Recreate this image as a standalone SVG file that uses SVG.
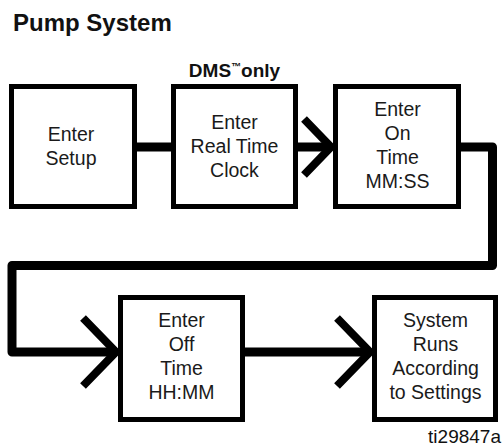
<svg xmlns="http://www.w3.org/2000/svg" width="502" height="447" viewBox="0 0 502 447">
<style>
.box{fill:#fff;stroke:#000;stroke-width:5}
.t{font-family:"Liberation Sans",Arial,sans-serif;font-size:19.5px;fill:#1a1a1a;text-anchor:middle}
.b{font-family:"Liberation Sans",Arial,sans-serif;font-weight:bold;fill:#111}
.ln{fill:none;stroke:#000;stroke-width:9}
.chev{fill:none;stroke:#000;stroke-width:8;stroke-linejoin:miter}
</style>
<rect width="502" height="447" fill="#fff"/>
<text class="b" x="13" y="31" font-size="24">Pump System</text>
<text class="b" x="234.5" y="76.5" font-size="19" text-anchor="middle">DMS<tspan font-size="10" dy="-7">™</tspan><tspan dy="7">only</tspan></text>
<g id="connectors">
<line class="ln" x1="135" y1="147" x2="173" y2="147"/>
<line class="ln" x1="296" y1="147" x2="331" y2="147"/>
<polyline class="chev" points="304,119 331,147 304,175"/>
<path class="ln" d="M460,147 H492.5 V265.5 H12 V352 H117" stroke-width="10" stroke-linejoin="round"/>
<polyline class="chev" points="83,318 116,352 83,386"/>
<line class="ln" x1="243" y1="352" x2="370" y2="352"/>
<polyline class="chev" points="337,318 370,352 337,386"/>
</g>
<g id="n1">
<rect class="box" x="11.5" y="86.5" width="123" height="120"/>
<text class="t" x="71" y="140.5">Enter</text>
<text class="t" x="71" y="164.5">Setup</text>
</g>
<g id="n2">
<rect class="box" x="173.5" y="86.5" width="122" height="120"/>
<text class="t" x="234.5" y="128.5">Enter</text>
<text class="t" x="234.5" y="152.5">Real Time</text>
<text class="t" x="234.5" y="176.5">Clock</text>
</g>
<g id="n3">
<rect class="box" x="335.5" y="86.5" width="123" height="120"/>
<text class="t" x="397.5" y="116">Enter</text>
<text class="t" x="397.5" y="140">On</text>
<text class="t" x="397.5" y="164">Time</text>
<text class="t" x="397.5" y="188">MM:SS</text>
</g>
<g id="n4">
<rect class="box" x="120.5" y="297.5" width="122" height="122"/>
<text class="t" x="181.5" y="327">Enter</text>
<text class="t" x="181.5" y="351">Off</text>
<text class="t" x="181.5" y="375">Time</text>
<text class="t" x="181.5" y="399">HH:MM</text>
</g>
<g id="n5">
<rect class="box" x="374.5" y="297.5" width="121" height="122"/>
<text class="t" x="435.5" y="327">System</text>
<text class="t" x="435.5" y="351">Runs</text>
<text class="t" x="435.5" y="375">According</text>
<text class="t" x="435.5" y="399">to Settings</text>
</g>
<text font-family="'Liberation Sans',Arial,sans-serif" font-size="19" fill="#111" x="501" y="443" text-anchor="end">ti29847a</text>
</svg>
